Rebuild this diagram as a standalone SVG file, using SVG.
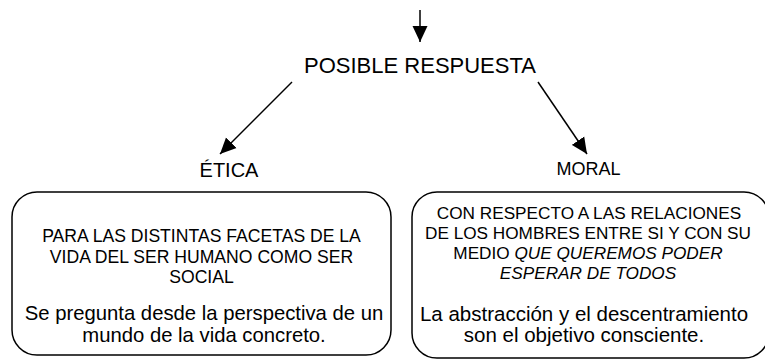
<svg xmlns="http://www.w3.org/2000/svg" width="765" height="360" viewBox="0 0 765 360">
<defs>
<marker id="ah" markerUnits="userSpaceOnUse" markerWidth="18" markerHeight="16" viewBox="0 0 18 16" refX="16" refY="8" orient="auto">
<path d="M0,0.5 L16,8 L0,15.5 Z" fill="#000"/>
</marker>
<style>
.t{font-family:"Liberation Sans",Arial,sans-serif;fill:#000;text-anchor:middle}
.c{stroke:#000;stroke-width:1.5;fill:none;marker-end:url(#ah)}
.box{fill:#fff;stroke:#000;stroke-width:1.5}
</style>
</defs>
<rect width="765" height="360" fill="#fff"/>
<g id="connectors">
<line class="c" x1="420" y1="10" x2="420" y2="42"/>
<line class="c" x1="292" y1="82" x2="220" y2="154"/>
<line class="c" x1="538" y1="82" x2="587" y2="154"/>
</g>
<g id="posible">
<text class="t" x="420" y="73" font-size="22">POSIBLE RESPUESTA</text>
</g>
<g id="etica">
<text class="t" x="229" y="177" font-size="20">ÉTICA</text>
</g>
<g id="moral">
<text class="t" x="588.5" y="174.5" font-size="18">MORAL</text>
</g>
<g id="box-etica">
<rect class="box" x="12" y="192" width="379" height="163" rx="25"/>
<text class="t" font-size="17.6"><tspan x="201.5" y="242">PARA LAS DISTINTAS FACETAS DE LA</tspan><tspan x="201.5" y="263">VIDA DEL SER HUMANO COMO SER</tspan><tspan x="201.5" y="283">SOCIAL</tspan></text>
<text class="t" font-size="20.3"><tspan x="204" y="320">Se pregunta desde la perspectiva de un</tspan><tspan x="204" y="342">mundo de la vida concreto.</tspan></text>
</g>
<g id="box-moral">
<rect class="box" x="412" y="192" width="357" height="166" rx="25"/>
<text class="t" font-size="17.2"><tspan x="589" y="219">CON RESPECTO A LAS RELACIONES</tspan><tspan x="588" y="239">DE LOS HOMBRES ENTRE SI Y CON SU</tspan><tspan x="588" y="259">MEDIO <tspan font-style="italic">QUE QUEREMOS PODER</tspan></tspan><tspan x="588" y="279" font-style="italic">ESPERAR DE TODOS</tspan></text>
<text class="t" font-size="20.5"><tspan x="584" y="321">La abstracción y el descentramiento</tspan><tspan x="584" y="342">son el objetivo consciente.</tspan></text>
</g>
</svg>
